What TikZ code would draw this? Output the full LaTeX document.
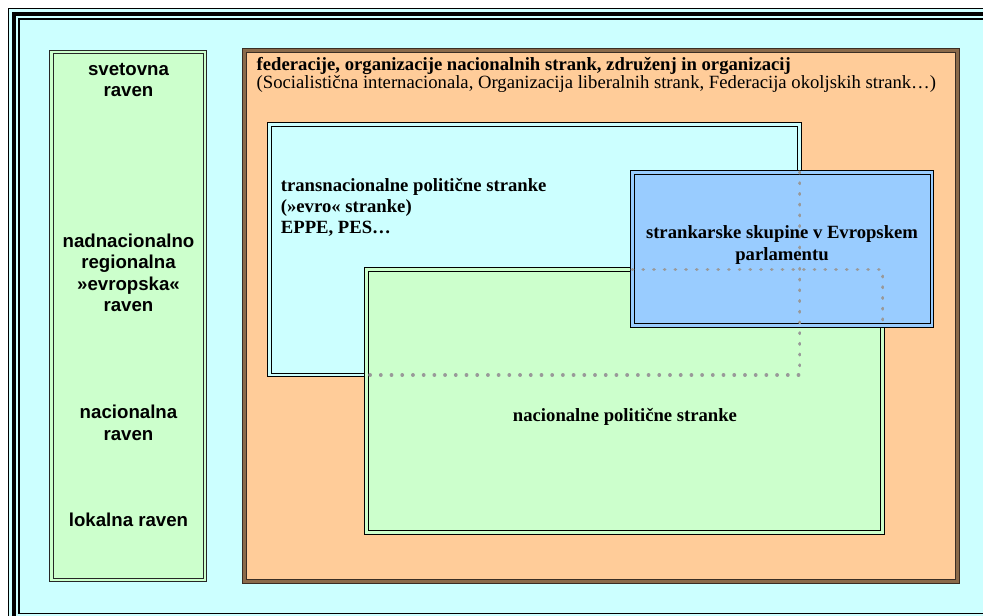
\documentclass[tikz,border=0pt]{standalone}
\usepackage{fontspec}
\setmainfont{Liberation Serif}
\newfontfamily\arialf{Liberation Sans}
\definecolor{bgcyan}{HTML}{CCFFFF}
\definecolor{lgreen}{HTML}{CCFFCC}
\definecolor{lorange}{HTML}{FFCC99}
\definecolor{lblue}{HTML}{99CCFF}
\definecolor{dotgray}{HTML}{999999}
\definecolor{brownline}{HTML}{8A6A4A}
\definecolor{darkbrown}{HTML}{3A2E24}
\tikzset{
  boxbase/.style={rectangle, inner sep=0pt, outer sep=0pt, anchor=north west,
    draw=black, line width=1.1pt, double distance=2.6pt},
  lvlbox/.style={boxbase, fill=lgreen, double=lgreen, draw=black!85},
  fedbox/.style={boxbase, fill=lorange, draw=darkbrown, double=brownline, line width=1pt, double distance=3pt},
  transbox/.style={boxbase, fill=bgcyan, double=bgcyan},
  natbox/.style={boxbase, fill=lgreen, double=lgreen},
  grpbox/.style={boxbase, fill=lblue, double=lblue},
  hidden/.style={draw=dotgray, line width=3.8pt, line cap=round, dash pattern=on 0.01pt off 10.7pt},
  lvltext/.style={inner sep=0pt, align=center, font=\arialf\bfseries\fontsize{18.67}{21.5}\selectfont},
  sertext/.style={inner sep=0pt, font=\fontsize{18.67}{21}\selectfont},
}
\begin{document}
\begin{tikzpicture}[x=1pt,y=-1pt]
\useasboundingbox (0,0) rectangle (983,616);
\begin{scope}
\clip (0,0) rectangle (983,616);
\fill[bgcyan] (8,8) rectangle (1000,630);
\draw[line width=1.2pt] (8.6,8.6) rectangle (1000,630);
\draw[line width=4pt] (14,14) rectangle (995,624);
\draw[line width=1.6pt] (19.2,19.2) rectangle (990,613.6);
\end{scope}
% boxes
\node[lvlbox, minimum width=153.5, minimum height=528] (levels) at (51.5,52) {};
\node[fedbox, minimum width=713.5, minimum height=531.5] (fed) at (244,50) {};
\node[transbox, minimum width=530, minimum height=250.5] (trans) at (269.5,124.5) {};
\node[natbox, minimum width=516, minimum height=263] (nat) at (366.5,269.5) {};
\node[grpbox, minimum width=299.5, minimum height=153] (grp) at (632.5,172.5) {};
% hidden edges
\draw[hidden] (grp.north -| trans.east) -- (trans.south east) -- (trans.south -| nat.west);
\draw[hidden] (grp.west |- nat.north) -- (nat.north east) -- (nat.east |- grp.south);
% level texts (base anchor = baseline of last line)
\node[lvltext, anchor=base] (lvlA) at (128.5,96.5) {svetovna\\raven};
\node[lvltext, anchor=base] (lvlB) at (128.5,311.5) {nadnacionalno\\regionalna\\»evropska«\\raven};
\node[lvltext, anchor=base] (lvlC) at (128.5,440) {nacionalna\\raven};
\node[lvltext, anchor=base] (lvlD) at (128.5,526) {lokalna raven};
% other texts
\node[sertext, anchor=base west, align=left, font=\fontsize{18.67}{15}\selectfont] (fedT) at (256.5,88.3) {{\bfseries federacije, organizacije nacionalnih strank, združenj in organizacij}\\(Socialistična internacionala, Organizacija liberalnih strank, Federacija okoljskih strank…)};
\node[sertext, anchor=base west, align=left, font=\bfseries\fontsize{18.67}{20.8}\selectfont] (transT) at (280.7,233.3) {transnacionalne politične stranke\\(»evro« stranke)\\EPPE, PES…};
\node[sertext, anchor=base, align=center, font=\bfseries\fontsize{18.67}{21.7}\selectfont] (grpT) at (782,260) {strankarske skupine v Evropskem\\parlamentu};
\node[sertext, anchor=base, font=\bfseries\fontsize{18.67}{21}\selectfont] (natT) at (625,421.7) {nacionalne politične stranke};
\end{tikzpicture}
\end{document}
